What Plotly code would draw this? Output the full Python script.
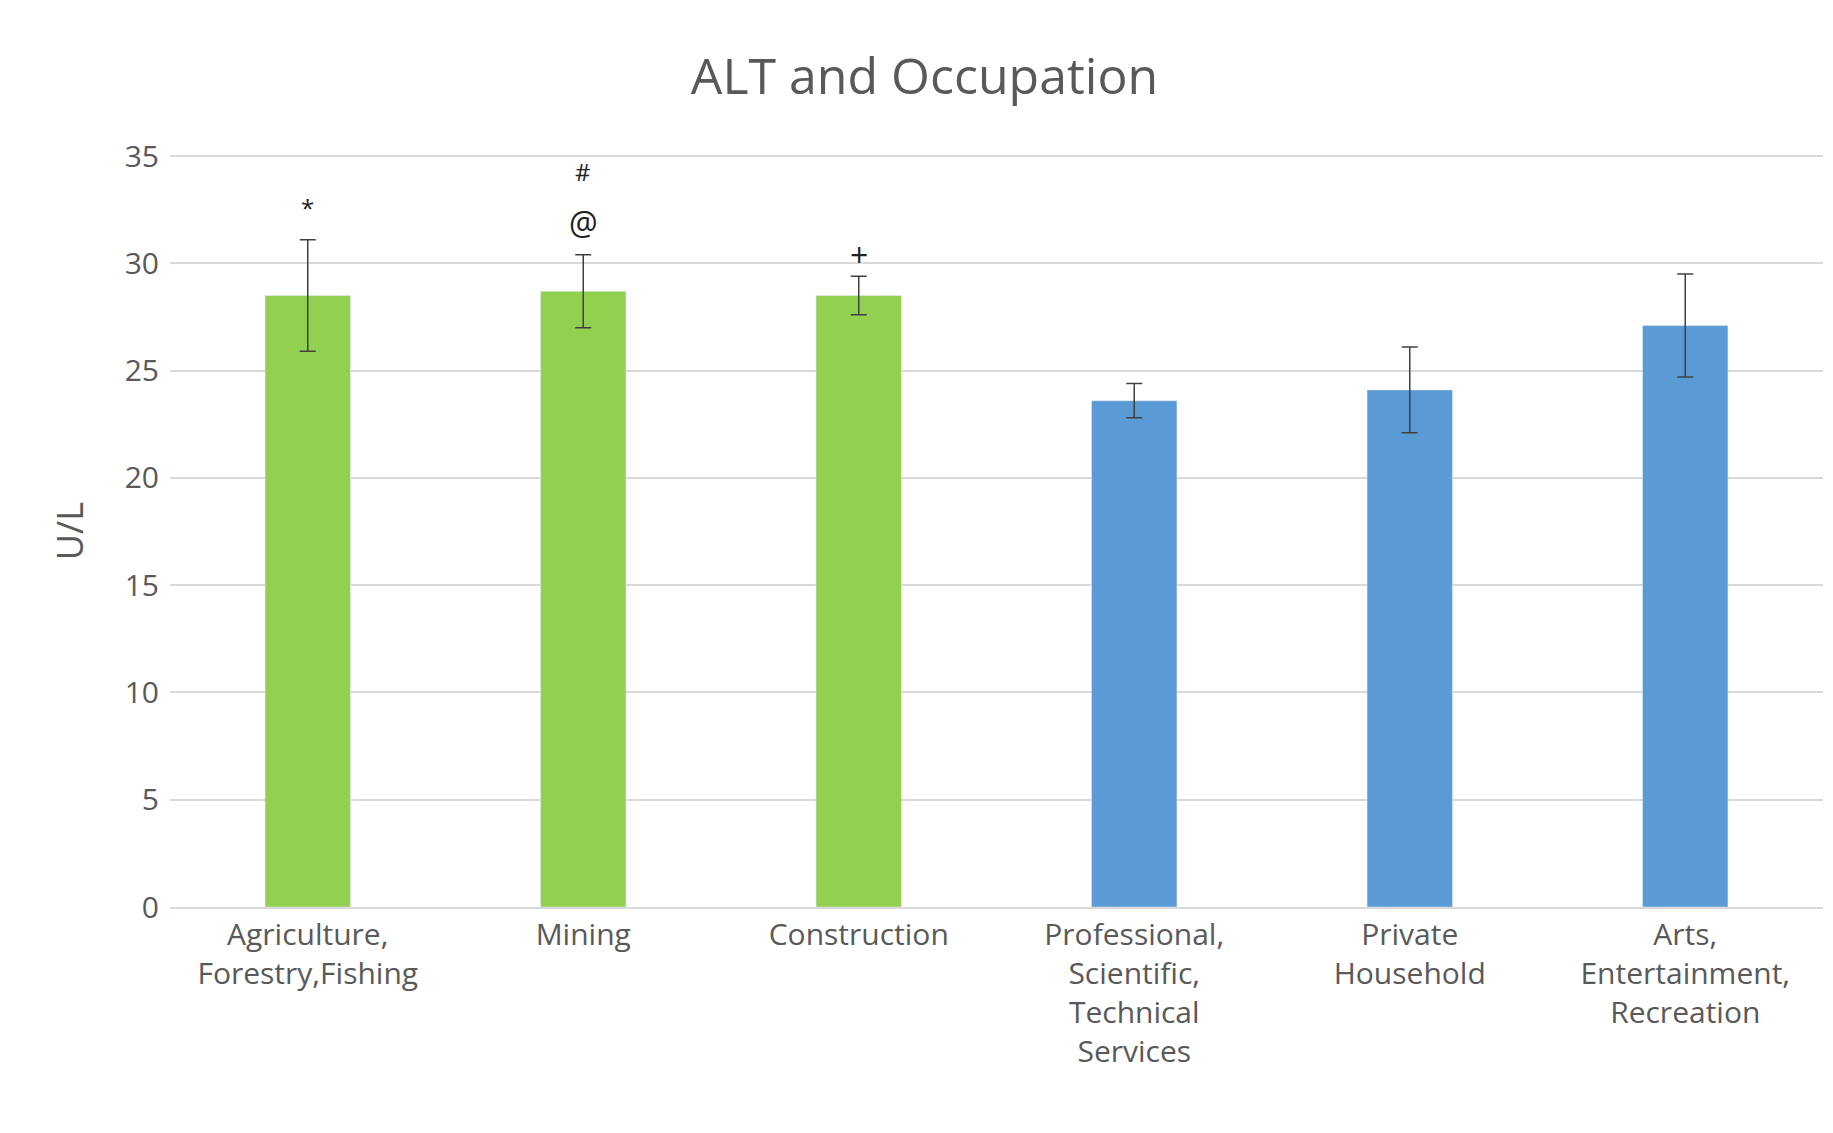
import plotly.graph_objects as go

categories = ["Agriculture,<br>Forestry,Fishing", "Mining", "Construction",
              "Professional,<br>Scientific,<br>Technical<br>Services",
              "Private<br>Household", "Arts,<br>Entertainment,<br>Recreation"]
values = [28.5, 28.7, 28.5, 23.6, 24.1, 27.1]
errors = [2.6, 1.7, 0.9, 0.8, 2.0, 2.4]
colors = ["#92D050", "#92D050", "#92D050", "#5B9BD5", "#5B9BD5", "#5B9BD5"]
marks = [("*", 0, 32.6), ("#", 1, 34.3), ("@", 1, 31.9), ("+", 2, 30.4)]

fig = go.Figure(go.Bar(
    x=categories, y=values, marker_color=colors, width=0.31,
    error_y=dict(type="data", array=errors, color="#404040", thickness=1.5, width=8),
))
for txt, i, y in marks:
    fig.add_annotation(x=categories[i], y=y, text=txt, showarrow=False,
                       font=dict(size=32 if txt in "@+" else 24, color="#222"))
fig.update_layout(
    width=1833, height=1133, plot_bgcolor="white", paper_bgcolor="white",
    font=dict(family="Open Sans, Liberation Sans", color="#595959", size=30),
    title=dict(text="ALT and Occupation", x=0.5, y=0.955, xanchor="center",
               font=dict(size=50, color="#595959")),
    margin=dict(l=162, r=18, t=147, b=234),
    showlegend=False,
)
fig.update_yaxes(range=[0, 35.05], tickvals=[0, 5, 10, 15, 20, 25, 30, 35],
                 gridcolor="#D9D9D9", gridwidth=1.5,
                 title=dict(text="U/L", standoff=30), zeroline=False, ticks="",
                 ticklabelstandoff=10)
fig.update_xaxes(showline=True, linecolor="#D9D9D9", linewidth=1.5, tickangle=0)
fig.write_html("out.html")
